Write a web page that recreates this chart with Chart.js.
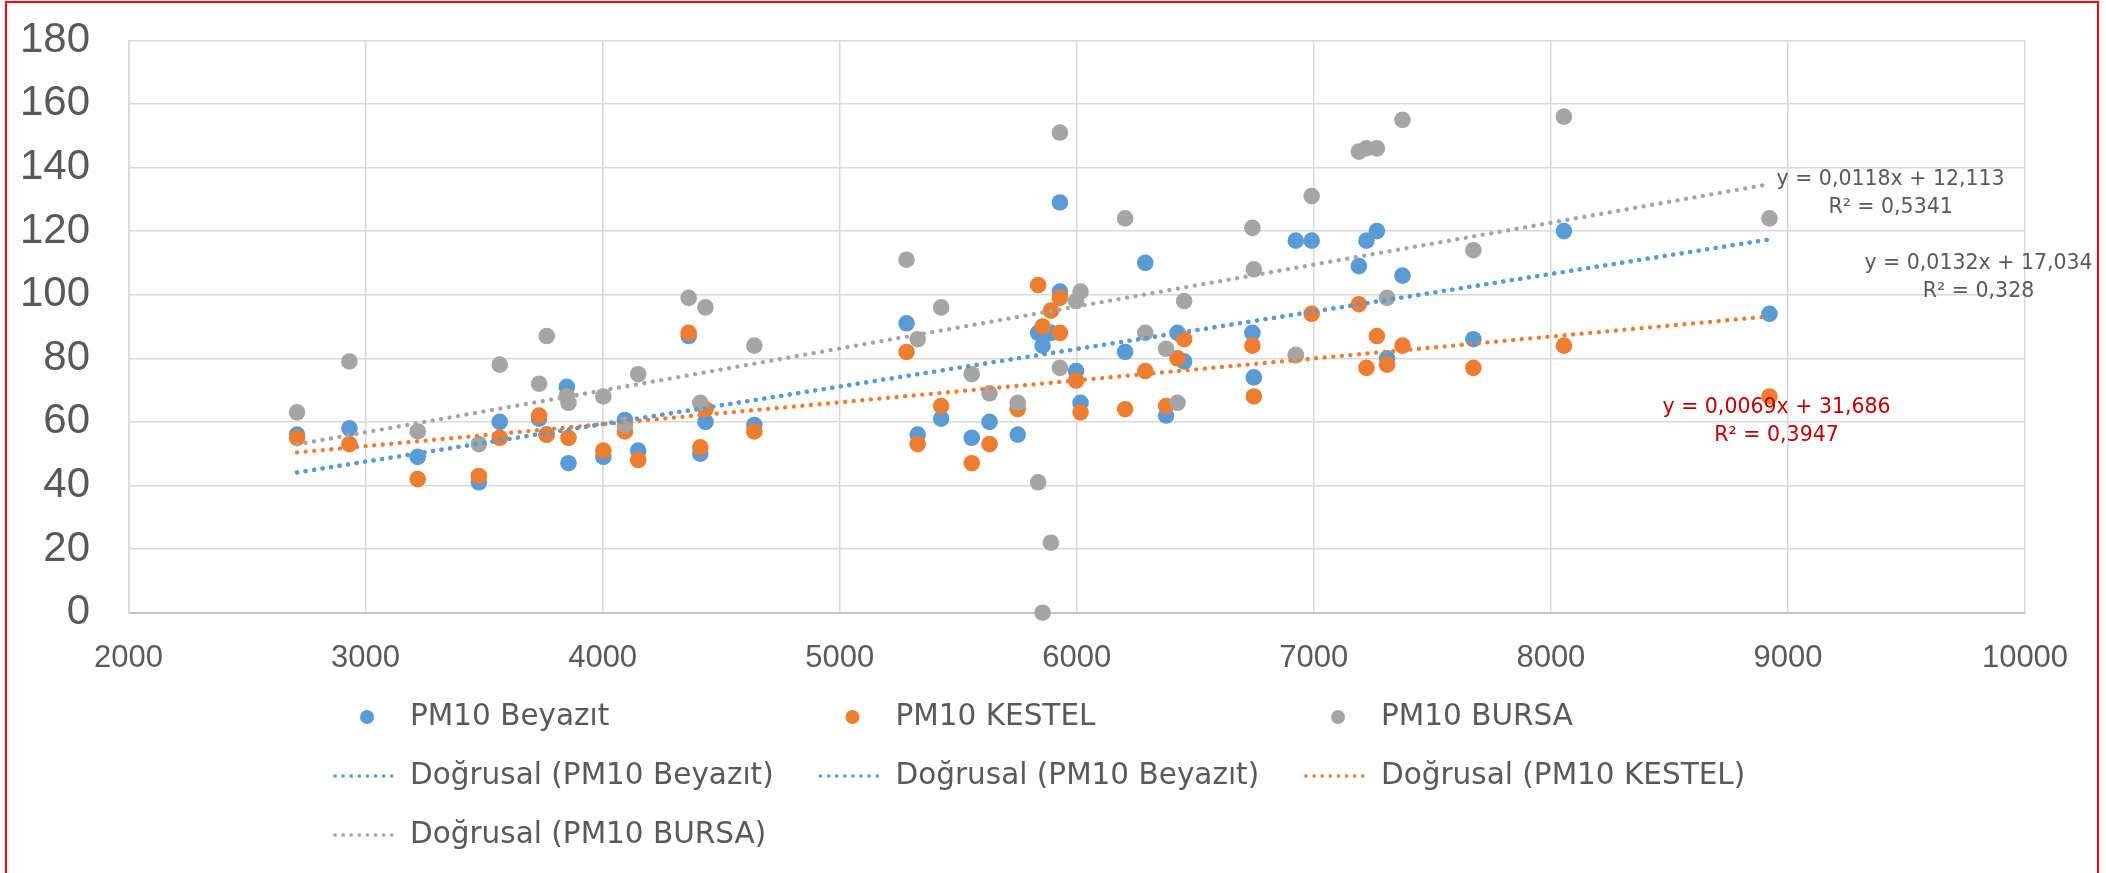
<!DOCTYPE html>
<html>
<head>
<meta charset="utf-8">
<script src="https://cdn.jsdelivr.net/npm/chart.js@4.4.0/dist/chart.umd.min.js"></script>
<style>
  html, body { margin: 0; padding: 0; background: #fff; }
  #wrap { position: relative; width: 2106px; height: 873px; overflow: hidden; }
  #frame { position: absolute; left: 5px; top: 1px; width: 2094px; height: 900px; border: 2px solid #ff0000; box-sizing: border-box; pointer-events: none; }
</style>
</head>
<body>
<div id="wrap">
  <canvas id="pmChart" width="2106" height="873"></canvas>
  <div id="frame"></div>
</div>
<script>
// x values (shared by the three stations)
const xValues = [2711, 2932, 3220, 3478, 3566, 3732, 3764, 3849, 3856, 4003,
  4094, 4150, 4363, 4412, 4434, 4640, 5282, 5329, 5428, 5557,
  5632, 5751, 5837, 5856, 5891, 5929, 5929, 5997, 6016, 6204,
  6289, 6377, 6425, 6453, 6741, 6747, 6924, 6991, 7190, 7222,
  7266, 7309, 7374, 7673, 8055, 8922];
const beyazit = [56, 58, 49, 41, 60, 61, 56, 71, 47, 49,
  60.6, 51, 87, 50, 60, 59, 91, 56, 61, 55,
  60, 56, 88, 84, 88, 129, 101, 76, 66, 82,
  110, 62, 88, 79, 88, 74, 117, 117, 109, 117,
  120, 80, 106, 86, 120, 94];
const kestel = [55, 53, 42, 43, 55, 62, 56, 68, 55, 51,
  57, 48, 88, 52, 64, 57, 82, 53, 65, 47,
  53, 64, 103, 90, 95, 99, 88, 73, 63, 64,
  76, 65, 80, 86, 84, 68, 81, 94, 97, 77,
  87, 78, 84, 77, 84, 68];
const bursa = [63, 79, 57, 53, 78, 72, 87, 68, 66, 68,
  59, 75, 99, 66, 96, 84, 111, 86, 96, 75,
  69, 66, 41, 0, 22, 151, 77, 98, 101, 124,
  88, 83, 66, 98, 121, 108, 81, 131, 145, 146,
  146, 99, 155, 114, 156, 124];

// trendline end points
const trendX = [2711, 8922];
const trendBeyazit = [44.1, 117.4];
const trendKestel = [50.4, 93.2];
const trendBursa = [52.9, 134.8];

const seriesNames = ['PM10 Beyazıt', 'PM10 KESTEL', 'PM10 BURSA'];
const trendNames = ['Doğrusal (PM10 Beyazıt)', 'Doğrusal (PM10 Beyazıt)', 'Doğrusal (PM10 KESTEL)', 'Doğrusal (PM10 BURSA)'];
const equationTexts = [
  ['y = 0,0118x + 12,113', 'R² = 0,5341'],
  ['y = 0,0132x + 17,034', 'R² = 0,328'],
  ['y = 0,0069x + 31,686', 'R² = 0,3947']
];

const BLUE = '#5B9BD5', ORANGE = '#ED7D31', GRAY = '#A5A5A5';
const TEXT = '#595959';

function toPoints(xs, ys) {
  return xs.map((x, i) => ({ x: x, y: ys[i] }));
}

function scatterSet(label, ys, color, order) {
  return {
    label: label,
    data: toPoints(xValues, ys),
    backgroundColor: color,
    borderColor: color,
    pointRadius: 8.3,
    pointBorderWidth: 0,
    showLine: false,
    clip: false,
    order: order
  };
}

function trendSet(label, ys, color) {
  return {
    label: label,
    data: toPoints(trendX, ys),
    borderColor: color,
    backgroundColor: color,
    borderWidth: 4.3,
    borderDash: [0.1, 8.5],
    borderCapStyle: 'round',
    pointRadius: 0,
    showLine: true,
    clip: false,
    order: 0
  };
}

// legend laid out in 3 fixed columns like the Excel one
const gridLegend = {
  id: 'gridLegend',
  afterDraw(chart) {
    const ctx = chart.ctx;
    ctx.save();
    ctx.font = '29.5px "DejaVu Sans"';
    ctx.textBaseline = 'middle';
    ctx.textAlign = 'left';
    chart.data.datasets.forEach((ds, i) => {
      const col = i % 3;
      const row = Math.floor(i / 3);
      const left = 333 + col * 485.5;
      const y = 717 + row * 59;
      if (ds.showLine) {
        ctx.strokeStyle = ds.borderColor;
        ctx.lineWidth = 3.6;
        ctx.lineCap = 'round';
        ctx.setLineDash([0.1, 8]);
        ctx.beginPath();
        ctx.moveTo(left + 2, y);
        ctx.lineTo(left + 63, y);
        ctx.stroke();
        ctx.setLineDash([]);
      } else {
        ctx.fillStyle = ds.backgroundColor;
        ctx.beginPath();
        ctx.arc(left + 34, y, 7, 0, Math.PI * 2);
        ctx.fill();
      }
      ctx.fillStyle = TEXT;
      ctx.fillText(ds.label, left + 77, y);
    });
    ctx.restore();
  }
};

// trendline equation labels
const equationLabels = {
  id: 'equationLabels',
  afterDatasetsDraw(chart) {
    const ctx = chart.ctx;
    const xs = chart.scales.x, ys = chart.scales.y;
    const anchors = [[9433, 131.9], [9804, 105.5], [8952, 60.0]];
    const colors = [TEXT, TEXT, '#C00000'];
    ctx.save();
    ctx.font = '20.5px "DejaVu Sans"';
    ctx.textAlign = 'center';
    ctx.textBaseline = 'middle';
    equationTexts.forEach((lines, i) => {
      const px = xs.getPixelForValue(anchors[i][0]);
      const py = ys.getPixelForValue(anchors[i][1]);
      ctx.fillStyle = colors[i];
      ctx.fillText(lines[0], px, py - 14);
      ctx.fillText(lines[1], px, py + 14);
    });
    ctx.restore();
  }
};

const ctx = document.getElementById('pmChart').getContext('2d');
new Chart(ctx, {
  type: 'scatter',
  data: {
    datasets: [
      scatterSet(seriesNames[0], beyazit, BLUE, 3),
      scatterSet(seriesNames[1], kestel, ORANGE, 2),
      scatterSet(seriesNames[2], bursa, GRAY, 1),
      trendSet(trendNames[0], trendBeyazit, BLUE),
      trendSet(trendNames[1], trendBeyazit, BLUE),
      trendSet(trendNames[2], trendKestel, ORANGE),
      trendSet(trendNames[3], trendBursa, GRAY)
    ]
  },
  options: {
    responsive: false,
    animation: false,
    devicePixelRatio: 1,
    layout: { padding: { top: 40.3, right: 81, left: 0, bottom: 0 } },
    plugins: {
      legend: { display: false },
      tooltip: { enabled: false }
    },
    scales: {
      x: {
        type: 'linear',
        min: 2000,
        max: 10000,
        afterFit(scale) {
          scale.height = 260.3;
          scale.paddingLeft = 0;
          scale.paddingRight = 0;
        },
        ticks: {
          stepSize: 1000,
          color: TEXT,
          padding: 27,
          font: { family: 'Liberation Sans', size: 31 },
          callback: v => String(v)
        },
        grid: { color: '#d9d9d9', lineWidth: 1.5, drawTicks: false },
        border: { color: '#c4c4c4', width: 2 }
      },
      y: {
        type: 'linear',
        min: 0,
        max: 180,
        afterFit(scale) {
          scale.width = 128.5;
          scale.paddingTop = 0;
          scale.paddingBottom = 0;
        },
        ticks: {
          stepSize: 20,
          color: TEXT,
          padding: 38.5,
          font: { family: 'Liberation Sans', size: 42 }
        },
        grid: { color: '#d9d9d9', lineWidth: 1.5, drawTicks: false },
        border: { color: '#d9d9d9', width: 1.5 }
      }
    }
  },
  plugins: [gridLegend, equationLabels]
});
</script>
</body>
</html>
